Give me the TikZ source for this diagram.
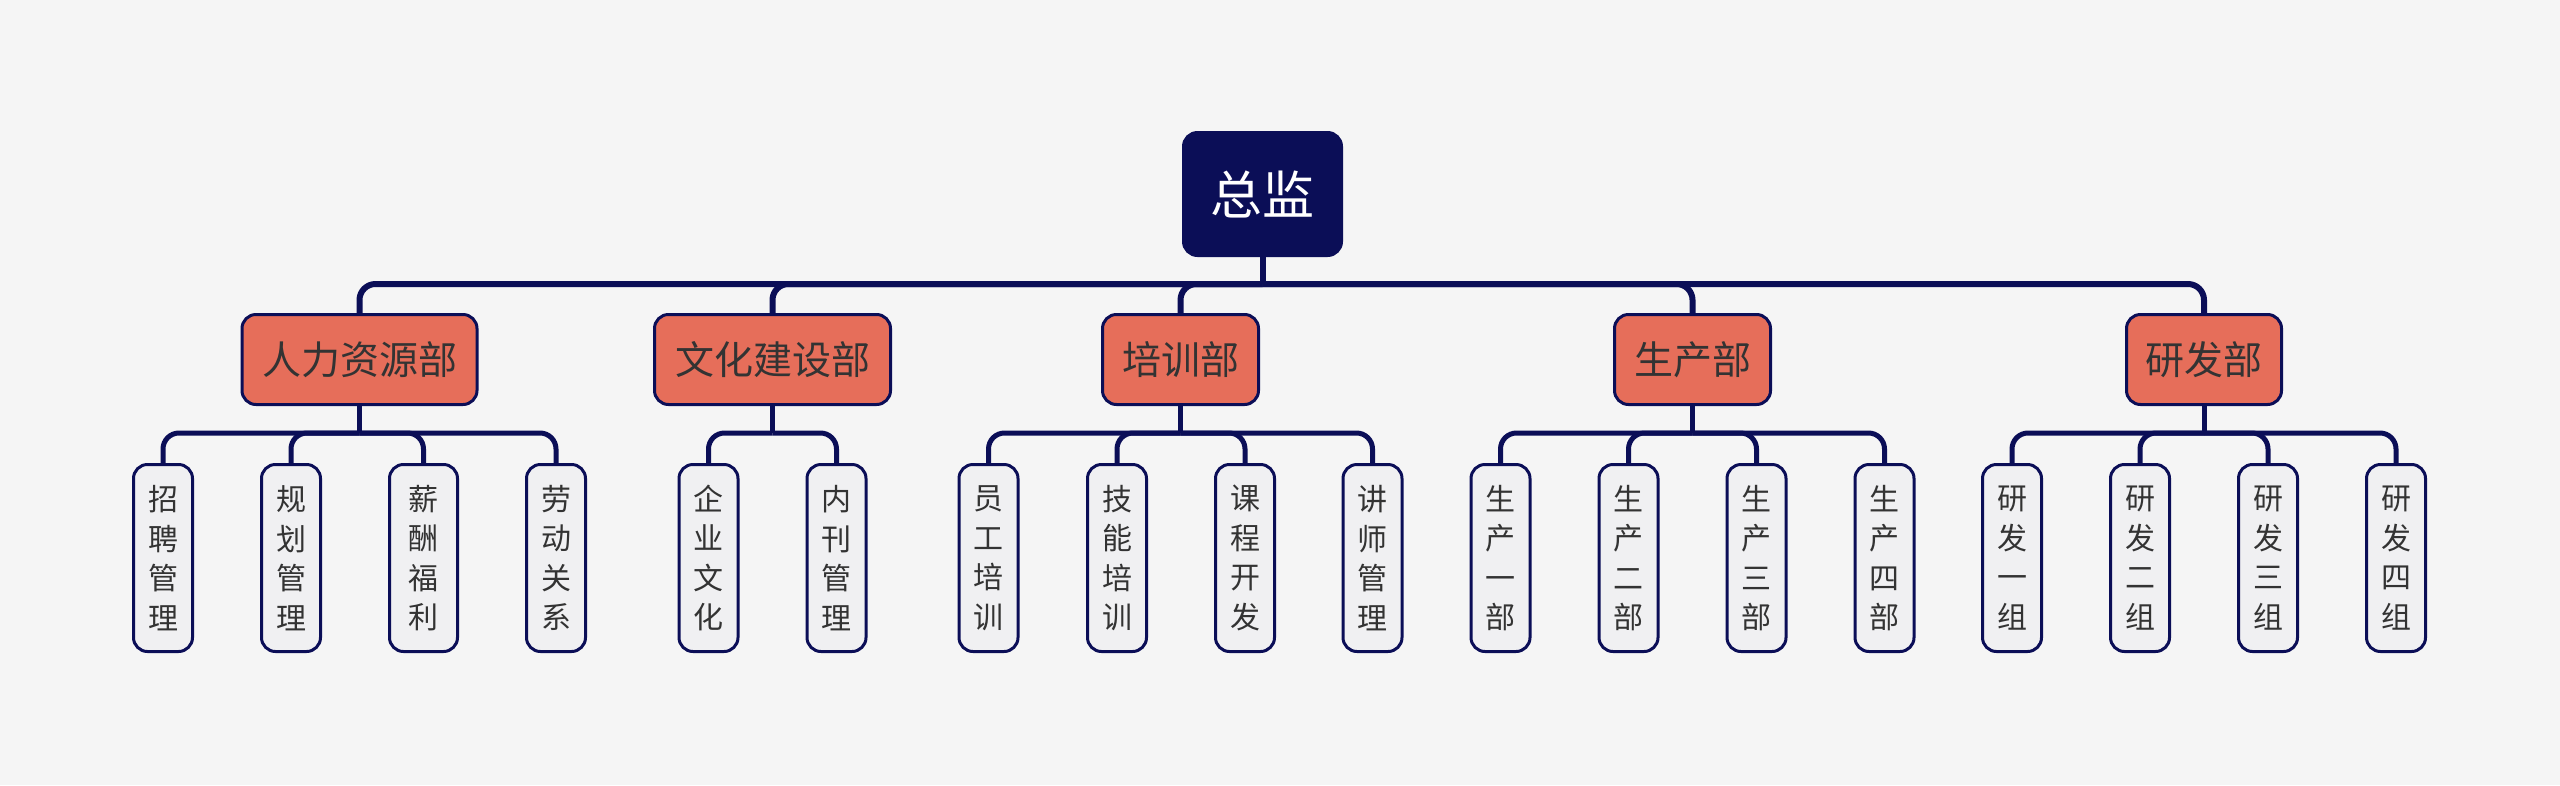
\documentclass[tikz,border=0pt]{standalone}
\usepackage{fontspec}
\newfontfamily\cjk{Noto Sans CJK SC}
\definecolor{bgc}{HTML}{F5F5F5}
\definecolor{navy}{HTML}{0B0E57}
\definecolor{salmon}{HTML}{E66E5A}
\definecolor{leaf}{HTML}{F0F0F2}
\definecolor{txt}{HTML}{333333}
\tikzset{
  rootbox/.style={draw=navy, fill=navy, line width=3pt, rounded corners=14pt,
    minimum width=158pt, minimum height=123pt, inner sep=0pt,
    text=white, font=\cjk\fontsize{52}{60}\selectfont},
  deptbox/.style={draw=navy, fill=salmon, line width=3pt, rounded corners=14pt,
    minimum height=90pt, inner sep=0pt,
    text=txt, font=\cjk\fontsize{39}{45}\selectfont},
  leafbox/.style={draw=navy, fill=leaf, line width=3pt, rounded corners=14pt,
    minimum width=59pt, minimum height=187pt, inner sep=0pt, align=center,
    text=txt, font=\cjk\fontsize{30}{39.5}\selectfont},
  bus/.style={draw=navy, line width=6pt},
  subbus/.style={draw=navy, line width=5pt},
}
\begin{document}
\begin{tikzpicture}[x=1pt,y=-1pt]
\fill[bgc] (0,0) rectangle (2560,785);
\useasboundingbox (0,0) rectangle (2560,785);

% root
\node[rootbox] (root) at (1262.5,194) {总监};

% departments
\node[deptbox, minimum width=235pt] (d1) at (359.5,359.5) {人力资源部};
\node[deptbox, minimum width=236pt] (d2) at (772.5,359.5) {文化建设部};
\node[deptbox, minimum width=156pt] (d3) at (1180.5,359.5) {培训部};
\node[deptbox, minimum width=156pt] (d4) at (1692.5,359.5) {生产部};
\node[deptbox, minimum width=155pt] (d5) at (2204,359.5) {研发部};

% leaves
\node[leafbox] (a1) at (163,558) {招\\聘\\管\\理};
\node[leafbox] (a2) at (291,558) {规\\划\\管\\理};
\node[leafbox, minimum width=68pt] (a3) at (423.5,558) {薪\\酬\\福\\利};
\node[leafbox] (a4) at (556,558) {劳\\动\\关\\系};

\node[leafbox] (b1) at (708.5,558) {企\\业\\文\\化};
\node[leafbox] (b2) at (836.5,558) {内\\刊\\管\\理};

\node[leafbox] (c1) at (988.5,558) {员\\工\\培\\训};
\node[leafbox] (c2) at (1117,558) {技\\能\\培\\训};
\node[leafbox] (c3) at (1245,558) {课\\程\\开\\发};
\node[leafbox] (c4) at (1372.5,558) {讲\\师\\管\\理};

\node[leafbox] (e1) at (1500.5,558) {生\\产\\一\\部};
\node[leafbox] (e2) at (1628.5,558) {生\\产\\二\\部};
\node[leafbox] (e3) at (1756.5,558) {生\\产\\三\\部};
\node[leafbox] (e4) at (1884.5,558) {生\\产\\四\\部};

\node[leafbox] (f1) at (2012,558) {研\\发\\一\\组};
\node[leafbox] (f2) at (2140,558) {研\\发\\二\\组};
\node[leafbox] (f3) at (2268,558) {研\\发\\三\\组};
\node[leafbox] (f4) at (2396,558) {研\\发\\四\\组};

% connectors: root to departments
\draw[bus] (root.south) -- ++(0,27) coordinate (rj);
\foreach \d in {d1,d2,d3,d4,d5}
  \draw[bus, rounded corners=16pt] (rj) -| (\d.north);

% departments to leaves
\draw[subbus] (d1.south) -- ++(0,27) coordinate (j1);
\foreach \l in {a1,a2,a3,a4}
  \draw[subbus, rounded corners=16pt] (j1) -| (\l.north);
\draw[subbus] (d2.south) -- ++(0,27) coordinate (j2);
\foreach \l in {b1,b2}
  \draw[subbus, rounded corners=16pt] (j2) -| (\l.north);
\draw[subbus] (d3.south) -- ++(0,27) coordinate (j3);
\foreach \l in {c1,c2,c3,c4}
  \draw[subbus, rounded corners=16pt] (j3) -| (\l.north);
\draw[subbus] (d4.south) -- ++(0,27) coordinate (j4);
\foreach \l in {e1,e2,e3,e4}
  \draw[subbus, rounded corners=16pt] (j4) -| (\l.north);
\draw[subbus] (d5.south) -- ++(0,27) coordinate (j5);
\foreach \l in {f1,f2,f3,f4}
  \draw[subbus, rounded corners=16pt] (j5) -| (\l.north);
\end{tikzpicture}
\end{document}
